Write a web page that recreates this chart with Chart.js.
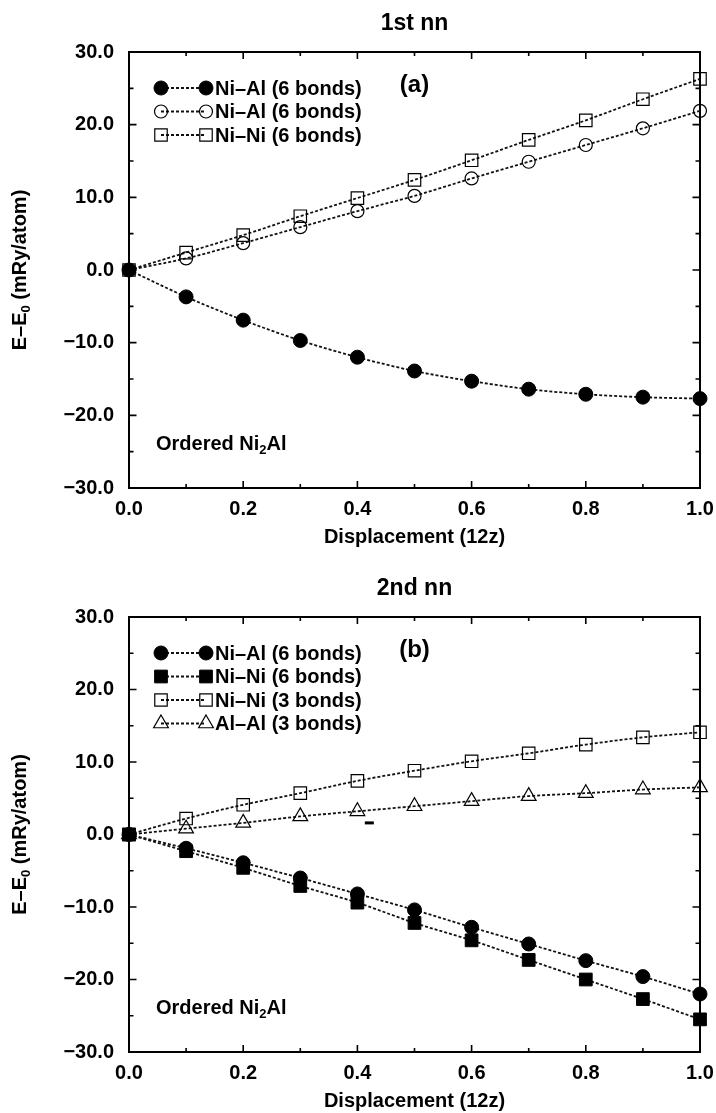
<!DOCTYPE html>
<html><head><meta charset="utf-8">
<script src="https://cdn.jsdelivr.net/npm/chart.js@4"></script>
<style>
html,body{margin:0;padding:0;background:#fff;}
#wrap{position:relative;width:716px;height:1113px;background:#fff;}
canvas{position:absolute;left:0;}
</style></head><body>
<div id="wrap">
<canvas id="c1" width="716" height="556" style="top:0"></canvas>
<canvas id="c2" width="716" height="557" style="top:556px"></canvas>
</div>
<script>
// ---------- data ----------
const displacement = [0.0, 0.1, 0.2, 0.3, 0.4, 0.5, 0.6, 0.7, 0.8, 0.9, 1.0];

// (a) 1st nn
const a_NiAl_filled = [0.0, -3.7, -6.9, -9.7, -12.0, -13.9, -15.3, -16.4, -17.1, -17.5, -17.7];
const a_NiAl_open   = [0.0, 1.6, 3.7, 5.9, 8.1, 10.2, 12.6, 14.9, 17.2, 19.5, 21.9];
const a_NiNi_open   = [0.0, 2.4, 4.8, 7.4, 9.9, 12.4, 15.1, 17.9, 20.6, 23.5, 26.3];

// (b) 2nd nn
const b_NiAl_filled = [0.0, -1.9, -3.9, -6.0, -8.2, -10.4, -12.8, -15.1, -17.4, -19.6, -22.0];
const b_NiNi_filled = [0.0, -2.3, -4.6, -7.1, -9.4, -12.2, -14.6, -17.3, -20.0, -22.7, -25.5];
const b_NiNi_open   = [0.0, 2.2, 4.1, 5.7, 7.4, 8.8, 10.1, 11.2, 12.4, 13.4, 14.1];
const b_AlAl_open   = [0.0, 0.8, 1.6, 2.5, 3.2, 3.9, 4.6, 5.3, 5.7, 6.2, 6.5];

const labelsA = ["Ni\u2013Al (6 bonds)", "Ni\u2013Al (6 bonds)", "Ni\u2013Ni (6 bonds)"];
const labelsB = ["Ni\u2013Al (6 bonds)", "Ni\u2013Ni (6 bonds)", "Ni\u2013Ni (3 bonds)", "Al\u2013Al (3 bonds)"];

const xTickValues = [0.0, 0.2, 0.4, 0.6, 0.8, 1.0];
const xTickLabels = ["0.0", "0.2", "0.4", "0.6", "0.8", "1.0"];
const xMinorTicks = [0.1, 0.3, 0.5, 0.7, 0.9];
const yTickValues = [-30, -20, -10, 0, 10, 20, 30];
const yTickLabels = ["\u221230.0", "\u221220.0", "\u221210.0", "0.0", "10.0", "20.0", "30.0"];
const yMinorTicks = [-25, -15, -5, 5, 15, 25];

const strayMarkB = {x: 0.42, y: 1.6};

// ---------- styling ----------
const FONT = '"Liberation Sans", Arial, Helvetica, sans-serif';
Chart.defaults.font.family = FONT;
Chart.defaults.color = '#000';

function pts(ys){ return displacement.map((x,i)=>({x:x, y:ys[i]})); }

const marker = {
  filledCircle: {pointStyle:'circle', radius:7, bg:'#000', bw:1},
  openCircle:   {pointStyle:'circle', radius:6.5, bg:'rgba(0,0,0,0)', bw:1.2},
  filledSquare: {pointStyle:'rect', radius:9, bg:'#000', bw:1},
  openSquare:   {pointStyle:'rect', radius:8.8, bg:'rgba(0,0,0,0)', bw:1.2},
  openTriangle: {pointStyle:'triangle', radius:8.5, bg:'rgba(0,0,0,0)', bw:1.2}
};

function ds(label, ys, m){
  return {
    label, data: pts(ys),
    borderColor:'#111', borderWidth:1.8, borderDash:[3,2],
    pointStyle:m.pointStyle, pointRadius:m.radius, pointHoverRadius:m.radius,
    pointBackgroundColor:m.bg, pointBorderColor:'#000', pointBorderWidth:m.bw,
    cubicInterpolationMode:'monotone', clip:false, fill:false,
    _m:m
  };
}

function fmtTick(values, labels){
  return function(v){
    const i = values.findIndex(t=>Math.abs(t-v)<1e-6);
    return i>=0 ? labels[i] : '';
  };
}

const decorPlugin = {
  id:'decor',
  beforeDatasetsDraw(chart){
    const {ctx, chartArea:a, scales:{x,y}} = chart;
    ctx.save();
    ctx.strokeStyle='#000';
    ctx.lineWidth=1.6;
    ctx.beginPath();
    const xt=(v,tl)=>{
      const px=x.getPixelForValue(v);
      ctx.moveTo(px,a.bottom); ctx.lineTo(px,a.bottom-tl);
      ctx.moveTo(px,a.top); ctx.lineTo(px,a.top+tl);
    };
    const yt=(v,tl)=>{
      const py=y.getPixelForValue(v);
      ctx.moveTo(a.left,py); ctx.lineTo(a.left+tl,py);
      ctx.moveTo(a.right,py); ctx.lineTo(a.right-tl,py);
    };
    xTickValues.forEach(v=>xt(v,7));
    xMinorTicks.forEach(v=>xt(v,4));
    yTickValues.forEach(v=>yt(v,7.5));
    yMinorTicks.forEach(v=>yt(v,4.5));
    ctx.stroke();
    ctx.lineWidth=2;
    ctx.strokeRect(a.left,a.top,a.right-a.left,a.bottom-a.top);
    ctx.restore();
  },
  afterDraw(chart, args, o){
    const {ctx, chartArea:a, scales:{x,y}} = chart;
    ctx.save();
    ctx.fillStyle='#000';
    ctx.textAlign='center'; ctx.textBaseline='middle';
    // title
    ctx.font='bold 23px '+FONT;
    ctx.fillText(o.title, (a.left+a.right)/2, a.top-28);
    // x title
    ctx.font='bold 20px '+FONT;
    ctx.fillText('Displacement (12z)', (a.left+a.right)/2, a.bottom+49);
    // y title with subscript
    ctx.save();
    ctx.translate(20,(a.top+a.bottom)/2);
    ctx.rotate(-Math.PI/2);
    const p1='E\u2013E', p2='0', p3=' (mRy/atom)';
    ctx.font='bold 20px '+FONT; const w1=ctx.measureText(p1).width, w3=ctx.measureText(p3).width;
    ctx.font='bold 13px '+FONT; const w2=ctx.measureText(p2).width;
    let sx=-(w1+w2+w3)/2;
    ctx.textAlign='left';
    ctx.font='bold 20px '+FONT; ctx.fillText(p1,sx,0); sx+=w1;
    ctx.font='bold 13px '+FONT; ctx.fillText(p2,sx,6); sx+=w2;
    ctx.font='bold 20px '+FONT; ctx.fillText(p3,sx,0);
    ctx.restore();
    // panel label
    ctx.font='bold 24px '+FONT;
    ctx.textAlign='center';
    ctx.fillText(o.panel, x.getPixelForValue(0.5), a.top+33);
    // Ordered Ni2Al
    ctx.textAlign='left';
    let ox=a.left+27, oy=a.bottom-44;
    ctx.font='bold 20px '+FONT; ctx.fillText('Ordered Ni',ox,oy); ox+=ctx.measureText('Ordered Ni').width;
    ctx.font='bold 13px '+FONT; ctx.fillText('2',ox,oy+6); ox+=ctx.measureText('2').width;
    ctx.font='bold 20px '+FONT; ctx.fillText('Al',ox,oy);
    // legend
    const lx1=a.left+32, lx2=a.left+77, tx=a.left+86;
    chart.data.datasets.forEach((d,i)=>{
      const ly=a.top+36+i*23.5;
      ctx.save();
      ctx.strokeStyle='#111'; ctx.lineWidth=1.8; ctx.setLineDash([3,2]);
      ctx.beginPath(); ctx.moveTo(lx1,ly); ctx.lineTo(lx2,ly); ctx.stroke();
      ctx.restore();
      const m=d._m;
      [lx1,lx2].forEach(px=>{
        ctx.save();
        ctx.fillStyle=m.bg; ctx.strokeStyle='#000'; ctx.lineWidth=m.bw;
        Chart.helpers.drawPoint(ctx,{pointStyle:m.pointStyle, radius:m.radius, rotation:0, borderWidth:m.bw},px,ly);
        ctx.restore();
      });
      ctx.font='bold 20px '+FONT; ctx.fillStyle='#000';
      ctx.textAlign='left'; ctx.textBaseline='middle';
      ctx.fillText(d.label, tx, ly+1);
    });
    // stray mark
    if (o.stray){
      const px=x.getPixelForValue(o.stray.x), py=y.getPixelForValue(o.stray.y);
      ctx.fillRect(px-4,py-1.5,9,3);
    }
    ctx.restore();
  }
};

function makeChart(id, datasets, title, panel, topPad, bottomH, stray){
  return new Chart(document.getElementById(id), {
    type:'line',
    data:{datasets},
    plugins:[decorPlugin],
    options:{
      responsive:false, animation:false, devicePixelRatio:1,
      layout:{padding:{top:topPad, right:16, left:0, bottom:0}},
      plugins:{legend:{display:false}, tooltip:{enabled:false}, title:{display:false},
               decor:{title, panel, stray}},
      scales:{
        x:{type:'linear', min:0, max:1,
           grid:{display:false, drawTicks:false}, border:{display:false},
           ticks:{stepSize:0.2, padding:9, font:{size:20, weight:'bold'}, color:'#000',
                  maxRotation:0, autoSkip:false,
                  callback:fmtTick(xTickValues, xTickLabels)},
           afterFit(s){ s.height=bottomH; s.paddingLeft=0; s.paddingRight=0; }},
        y:{type:'linear', min:-30, max:30,
           grid:{display:false, drawTicks:false}, border:{display:false},
           ticks:{stepSize:10, padding:15, font:{size:20, weight:'bold'}, color:'#000',
                  callback:fmtTick(yTickValues, yTickLabels)},
           afterFit(s){ s.width=129; s.paddingTop=0; s.paddingBottom=0; }}
      }
    }
  });
}

makeChart('c1', [
  ds(labelsA[0], a_NiAl_filled, marker.filledCircle),
  ds(labelsA[1], a_NiAl_open, marker.openCircle),
  ds(labelsA[2], a_NiNi_open, marker.openSquare)
], '1st nn', '(a)', 52, 68, null);

makeChart('c2', [
  ds(labelsB[0], b_NiAl_filled, marker.filledCircle),
  ds(labelsB[1], b_NiNi_filled, marker.filledSquare),
  ds(labelsB[2], b_NiNi_open, marker.openSquare),
  ds(labelsB[3], b_AlAl_open, marker.openTriangle)
], '2nd nn', '(b)', 61, 61, strayMarkB);
</script>
</body></html>
